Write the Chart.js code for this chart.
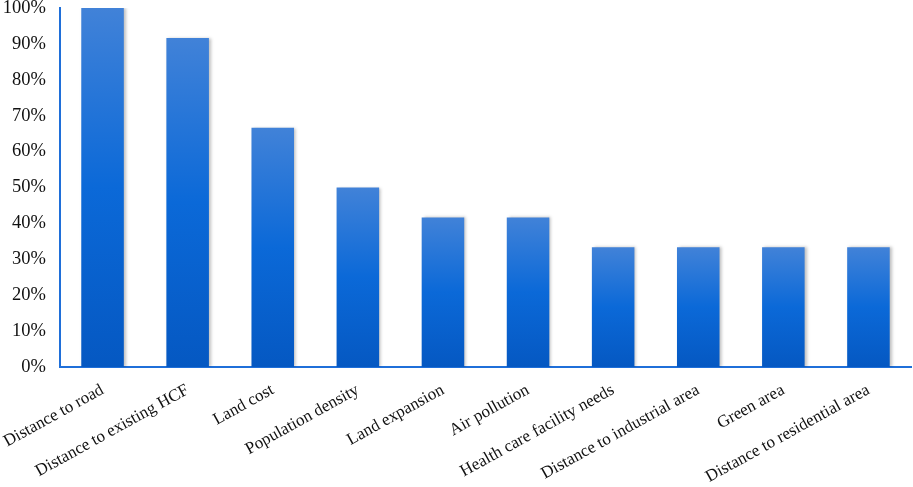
<!DOCTYPE html>
<html lang="en">
<head>
    <meta charset="UTF-8">
    <title>Site selection criteria</title>
    <script src="https://cdn.jsdelivr.net/npm/chart.js@4.4.0/dist/chart.umd.min.js"></script>
    <style>
        html, body { margin: 0; padding: 0; background: #fff; }
        #wrap { width: 913px; height: 487px; }
    </style>
</head>
<body>
    <div id="wrap"><canvas id="criteriaChart" width="913" height="487"></canvas></div>

    <script>
        const categories = [
            'Distance to road', 'Distance to existing HCF', 'Land cost', 'Population density',
            'Land expansion', 'Air pollution', 'Health care facility needs',
            'Distance to industrial area', 'Green area', 'Distance to residential area'
        ];
        const shares = [100, 91.67, 66.67, 50, 41.67, 41.67, 33.33, 33.33, 33.33, 33.33];
        const yTicks = [0, 10, 20, 30, 40, 50, 60, 70, 80, 90, 100];

        // each bar gets its own top-to-bottom gradient
        function barGradient(context) {
            const chart = context.chart;
            const yScale = chart.scales.y;
            if (!chart.chartArea || !yScale || context.raw === undefined) return '#1466d2';
            const top = yScale.getPixelForValue(context.raw);
            const bottom = yScale.getPixelForValue(0);
            if (!isFinite(top) || !isFinite(bottom)) return '#1466d2';
            const g = chart.ctx.createLinearGradient(0, top, 0, bottom);
            g.addColorStop(0, '#4182d8');
            g.addColorStop(0.5, '#0b69d8');
            g.addColorStop(1, '#0558c2');
            return g;
        }

        const barShadow = {
            id: 'barShadow',
            beforeDatasetsDraw(chart) {
                const ctx = chart.ctx;
                ctx.save();
                ctx.shadowColor = 'rgba(0,0,0,0.25)';
                ctx.shadowBlur = 3;
                ctx.shadowOffsetX = 2;
                ctx.shadowOffsetY = 0;
            },
            afterDatasetsDraw(chart) {
                chart.ctx.restore();
            }
        };

        new Chart(document.getElementById('criteriaChart'), {
            type: 'bar',
            data: {
                labels: categories,
                datasets: [{
                    data: shares,
                    backgroundColor: barGradient,
                    borderWidth: 0,
                    categoryPercentage: 1,
                    barPercentage: 0.5
                }]
            },
            plugins: [barShadow],
            options: {
                responsive: false,
                animation: false,
                layout: { padding: { top: 8, right: 2, left: 0, bottom: 0 } },
                plugins: { legend: { display: false }, tooltip: { enabled: false } },
                scales: {
                    y: {
                        min: 0,
                        max: 100,
                        afterBuildTicks(axis) { axis.ticks = yTicks.map(v => ({ value: v })); },
                        afterFit(axis) {
                            axis.width = 60;
                            axis.paddingTop = 0;
                            axis.paddingBottom = 0;
                        },
                        grid: { display: false, drawTicks: false },
                        border: { display: true, color: '#1f6fd9', width: 2 },
                        ticks: {
                            padding: 14,
                            color: '#111',
                            font: { family: 'Liberation Serif', size: 18.5 },
                            callback: v => v + '%'
                        }
                    },
                    x: {
                        afterFit(axis) {
                            axis.height = 120;
                            axis.paddingLeft = 0;
                            axis.paddingRight = 0;
                        },
                        grid: { display: false, drawTicks: false },
                        border: { display: true, color: '#1f6fd9', width: 2 },
                        ticks: {
                            minRotation: 29,
                            maxRotation: 29,
                            autoSkip: false,
                            padding: 13,
                            color: '#111',
                            font: { family: 'Liberation Serif', size: 17 }
                        }
                    }
                }
            }
        });
    </script>
</body>
</html>
